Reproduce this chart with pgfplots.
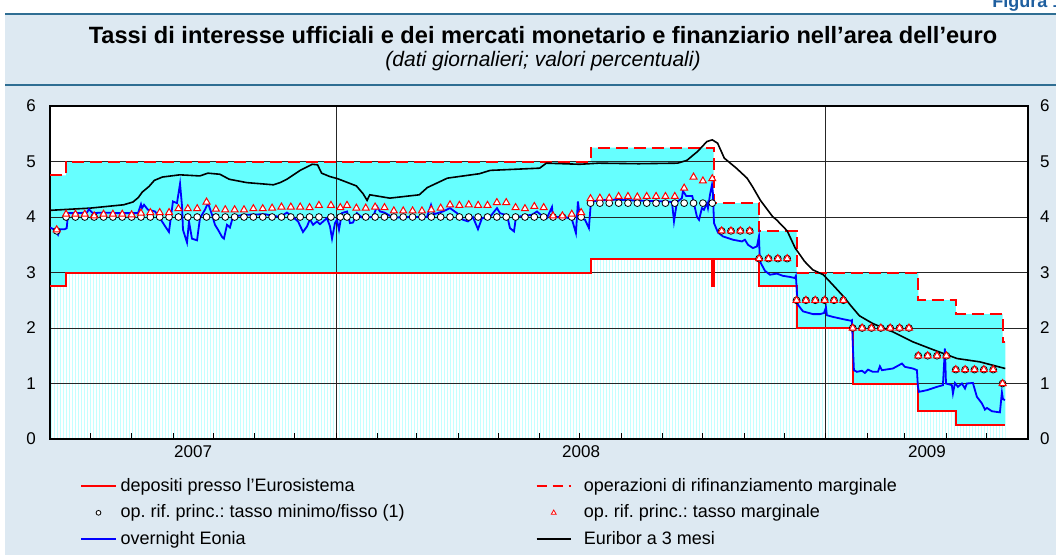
\documentclass[border=0pt]{standalone}
\usepackage{fontspec}
\setmainfont{Liberation Sans}
\usepackage{pgfplots}
\pgfplotsset{compat=1.18}
\usetikzlibrary{patterns.meta}
\definecolor{panel}{HTML}{DDE9F2}
\definecolor{headline}{HTML}{2F6E93}
\definecolor{cyanfill}{HTML}{66FFFF}
\definecolor{palecyan}{HTML}{C4FFFF}
\definecolor{figblue}{HTML}{1F5F9F}
\pgfplotsset{chartbox/.style={at={(25pt,-219.5pt)}, anchor=south west, scale only axis,
  width=489pt, height=166.5pt, xmin=0, xmax=731, ymin=0, ymax=6}}
\begin{document}
\frenchspacing
\begin{tikzpicture}
\begin{scope}[x=0.5pt,y=-0.5pt]
\fill[white] (50,106) rectangle (1028,439);
\fill[panel, even odd rule] (5,14) rectangle (1056,555) (50,106) rectangle (1028,439);
\draw[headline, line width=1.2pt] (5,14) -- (1056,14);
\draw[headline, line width=1pt] (5,85) -- (1056,85);
\node[anchor=base, font=\bfseries\fontsize{11.8}{13}\selectfont] at (543,44) {Tassi di interesse ufficiali e dei mercati monetario e finanziario nell’area dell’euro};
\node[anchor=base, font=\itshape\fontsize{10.5}{12}\selectfont] at (543,67) {(dati giornalieri; valori percentuali)};
\node[anchor=base west, font=\bfseries\fontsize{9}{11}\selectfont, text=figblue, inner sep=0pt] at (992,8) {Figura 1.};
\end{scope}
% ---- axis A: corridor fills only ----
\begin{axis}[chartbox, hide axis]
\addplot[const plot, fill=cyanfill, draw=none, forget plot] coordinates {
(0,4.75)(12,5.00)(404,5.25)(496,4.25)(530,3.75)(558,3.00)(649,2.50)(677,2.25)(712,1.75)(714,1.75)} \closedcycle;
\addplot[const plot, fill=white, draw=none, forget plot,
  postaction={pattern={Lines[angle=90,distance=1.5pt,line width=0.5pt]}, pattern color=palecyan}] coordinates {
(0,2.75)(12,3.00)(404,3.25)(495,2.75)(496,3.25)(530,2.75)(558,2.00)(600,1.00)(649,0.50)(677,0.25)(714,0.25)} \closedcycle;
\end{axis}
% ---- axis B: grid, lines, marks, legend ----
\begin{axis}[chartbox,
  axis line style={black, line width=0.6pt},
  /pgf/number format/assume math mode=true,
  xtick={214,580}, xticklabels={}, xmajorgrids,
  minor xtick={30,61,92,122,153,183,245,274,305,335,366,396,427,458,488,519,549,611,639,670,700},
  tick align=inside, xtick pos=left, ytick pos=left,
  major tick length=3pt, minor tick length=3pt,
  tick style={black, line width=0.5pt},
  extra x ticks={107,397,655.5}, extra x tick labels={2007,2008,2009},
  extra x tick style={grid=none, major tick length=0pt},
  ytick={0,1,2,3,4,5,6}, ymajorgrids,
  ytick style={draw=none},
  yticklabel style={xshift=-3.5pt},
  grid style={black!85, line width=0.5pt},
  tick label style={font=\fontsize{8.5}{10}\selectfont},
  legend columns=2,
  legend cell align=left,
  legend style={at={(0.0307,-0.105)}, anchor=north west, draw=none, fill=none,
    inner sep=0pt, font=\fontsize{9}{11}\selectfont, row sep=1.2pt,
    /tikz/every even column/.append style={column sep=63.5pt},
    /tikz/column 3/.append style={column sep=4pt}},
]
\addlegendimage{red, line width=1pt}
\addlegendentry{depositi presso l{\char"27}Eurosistema}
\addlegendimage{red, line width=1pt, dash pattern=on 5pt off 3pt}
\addlegendentry{operazioni di rifinanziamento marginale}
\addlegendimage{only marks, mark=*, mark size=1.2pt, mark options={fill=white, draw=black, line width=0.4pt}}
\addlegendentry{op. rif. princ.: tasso minimo/fisso (1)}
\addlegendimage{only marks, mark=triangle*, mark size=1.4pt, mark options={fill=white, draw=red, line width=0.4pt}}
\addlegendentry{op. rif. princ.: tasso marginale}
\addlegendimage{blue, line width=1pt}
\addlegendentry{overnight Eonia}
\addlegendimage{black, line width=1pt}
\addlegendentry{Euribor a 3 mesi}
% deposit facility
\addplot[red, line width=1pt, const plot, forget plot] coordinates {
(0,2.75)(12,3.00)(404,3.25)(495,2.75)(496,3.25)(530,2.75)(558,2.00)(600,1.00)(649,0.50)(677,0.25)(714,0.25)};
% marginal lending facility
\addplot[red, line width=1pt, const plot, dash pattern=on 6pt off 3pt, forget plot] coordinates {
(0,4.75)(12,5.00)(404,5.25)(496,4.25)(530,3.75)(558,3.00)(649,2.50)(677,2.25)(712,1.75)(714,1.75)};
% Euribor 3 months
\addplot[black, line width=0.8pt, forget plot] coordinates {
(0,4.12)(30,4.16)(55,4.22)(62,4.27)(66,4.35)(69,4.45)(74,4.55)(78,4.66)(84,4.72)(97,4.76)(112,4.74)(118,4.79)(127,4.77)(134,4.68)(147,4.62)(167,4.58)(172,4.62)(177,4.68)(187,4.84)(196,4.95)(200,4.94)(203,4.79)(209,4.73)(215,4.69)(229,4.56)(234,4.42)(237,4.30)(239,4.40)(254,4.34)(276,4.40)(282,4.53)(297,4.70)(321,4.78)(329,4.84)(366,4.88)(371,4.97)(396,4.95)(410,4.97)(440,4.96)(469,4.97)(476,5.02)(484,5.18)(491,5.36)(495,5.39)(499,5.33)(504,5.06)(513,4.88)(521,4.70)(525,4.55)(531,4.30)(540,4.01)(543,3.95)(551,3.75)(557,3.44)(564,3.20)(570,3.05)(578,2.96)(585,2.78)(593,2.57)(599,2.39)(605,2.22)(615,2.08)(630,1.93)(645,1.75)(660,1.61)(678,1.45)(695,1.39)(714,1.27)};
% Eonia
\addplot[blue, line width=0.9pt, forget plot] coordinates {
(0,3.81)(3.7,3.77)(6,3.68)(7.5,3.78)(11,3.78)(12.5,3.80)(13.5,4.07)(21,4.07)(27.7,4.08)(29,4.14)(32,4.07)(40,4.08)(50,4.07)(60,4.07)(65.8,4.07)(68,4.23)(68.8,4.16)(70.3,4.22)(73.2,4.13)(78.5,4.10)(83.7,3.92)(88.9,3.73)(91.9,4.28)(94.9,4.25)(97.2,4.60)(98.7,4.19)(99.4,3.77)(102.4,3.54)(103.9,3.92)(106.1,3.61)(109.9,3.58)(112.1,3.98)(115.8,4.13)(118.1,4.25)(121.1,4.04)(123.3,3.86)(125.6,3.77)(128.6,3.64)(130,3.61)(132.3,3.86)(134.5,3.81)(136.8,4.01)(145.7,4.04)(160.7,4.05)(171.9,4.00)(177.1,4.08)(181.6,4.00)(185.4,3.92)(189.1,3.73)(192.1,3.83)(194.3,3.96)(196.6,3.86)(199.6,3.92)(201.8,3.87)(207,3.98)(209.3,3.83)(210.8,3.61)(213,3.89)(214.5,3.95)(216,3.77)(218.2,4.07)(222,4.10)(224.2,3.89)(226.5,3.90)(229.4,4.07)(233.2,3.99)(241.4,4.00)(244.4,4.19)(246.6,4.10)(250,4.08)(256.4,3.99)(270,4.00)(281.8,4.00)(284.8,4.22)(287,4.05)(293.7,4.10)(299,4.16)(304.2,4.07)(308.7,3.95)(312.4,3.92)(316.1,4.00)(319.9,3.78)(322.9,3.98)(328.8,4.00)(334.1,4.16)(336.3,4.07)(340.1,4.04)(342.3,3.96)(343.8,3.80)(346.8,3.74)(348.3,4.00)(360.2,4.04)(364,4.10)(367.7,4.02)(371.4,3.98)(375.2,4.18)(375.9,4.00)(384.9,4.00)(390.1,3.96)(393.1,3.71)(394.6,4.28)(396.1,3.98)(399.9,3.95)(402.8,3.80)(404.3,4.27)(409.6,4.30)(422.3,4.31)(435,4.30)(459.6,4.28)(464.9,4.27)(466.4,3.92)(468.6,4.27)(472.3,4.34)(473.1,4.47)(475.5,4.38)(480,4.38)(480.7,4.31)(483.6,4.00)(485.1,3.95)(487.3,4.16)(488.8,4.13)(491,4.25)(491.8,4.16)(493.3,4.40)(494.8,4.58)(495.5,4.43)(496.3,3.89)(499.3,3.72)(503,3.65)(510.5,3.59)(517.2,3.56)(519.4,3.59)(521.7,3.50)(525.4,3.44)(528.4,3.47)(529.9,3.65)(530.6,3.20)(534.4,3.03)(538.1,2.96)(543.3,2.98)(547.8,2.94)(553.1,2.92)(556.8,2.90)(557.5,2.94)(558.3,2.63)(559,2.42)(562.8,2.30)(570.3,2.25)(575.5,2.25)(578.5,2.27)(580,2.37)(580.7,2.23)(585.2,2.20)(592.7,2.16)(598.7,2.13)(599.4,2.14)(600.1,1.66)(600.9,1.24)(603.1,1.21)(606.9,1.23)(609.1,1.19)(611.4,1.25)(615.1,1.21)(618.8,1.21)(620.3,1.31)(621.8,1.24)(630,1.27)(636.8,1.36)(639,1.30)(645,1.27)(648,1.24)(648.7,0.94)(649.5,0.85)(655.5,0.88)(663,0.94)(667.4,0.97)(668.9,1.63)(669.7,1.00)(674.1,0.97)(674.9,0.82)(676.4,1.01)(678.6,0.94)(681.6,1.00)(683.9,0.91)(685.3,1.00)(689.8,1.01)(692.8,0.76)(696.6,0.64)(698.8,0.53)(700.3,0.56)(704,0.50)(710,0.48)(711.5,0.84)(712.3,0.72)(713.7,0.70)};
% MRO minimum / fixed rate
\addplot[only marks, mark=*, mark size=1.7pt, mark options={fill=white, draw=black, line width=0.4pt}, forget plot] coordinates {
(5,3.75)(12,4)(19,4)(26,4)(33,4)(40,4)(47,4)(54,4)(61,4)(68,4)(75,4)(82,4)(89,4)(96,4)(103,4)(110,4)(117,4)(124,4)(131,4)(138,4)(145,4)(152,4)(159,4)(166,4)(173,4)(180,4)(187,4)(194,4)(201,4)(210,4)(217,4)(222,4)(229,4)(236,4)(243,4)(250,4)(257,4)(264,4)(271,4)(278,4)(285,4)(292,4)(299,4)(306,4)(313,4)(320,4)(327,4)(334,4)(341,4)(348,4)(355,4)(362,4)(369,4)(376,4)(383,4)(390,4)(397,4)
(404,4.25)(411,4.25)(418,4.25)(425,4.25)(432,4.25)(439,4.25)(446,4.25)(453,4.25)(460,4.25)(467,4.25)(474,4.25)(481,4.25)(488,4.25)(495,4.25)
(502,3.75)(509,3.75)(516,3.75)(523,3.75)(530,3.25)(537,3.25)(544,3.25)(551,3.25)
(558,2.5)(565,2.5)(572,2.5)(579,2.5)(586,2.5)(593,2.5)
(600,2)(607,2)(614,2)(621,2)(628,2)(635,2)(642,2)
(649,1.5)(656,1.5)(663,1.5)(670,1.5)(677,1.25)(684,1.25)(691,1.25)(698,1.25)(705,1.25)(712,1)};
% MRO marginal rate
\addplot[only marks, mark=triangle*, mark size=2pt, mark options={fill=white, draw=red, line width=0.5pt}, forget plot] coordinates {
(5,3.77)(12,4.05)(19,4.05)(26,4.05)(33,4.02)(40,4.05)(47,4.05)(54,4.05)(61,4.04)(68,4.07)(75,4.08)(82,4.08)(89,4.08)(96,4.15)(103,4.15)(110,4.15)(117,4.27)(124,4.14)(131,4.13)(138,4.13)(145,4.13)(152,4.15)(159,4.15)(166,4.16)(173,4.18)(180,4.18)(187,4.18)(194,4.17)(201,4.21)(210,4.21)(217,4.17)(222,4.21)(229,4.16)(236,4.16)(243,4.18)(250,4.17)(257,4.11)(264,4.11)(271,4.11)(278,4.11)(285,4.13)(292,4.16)(299,4.22)(306,4.21)(313,4.22)(320,4.21)(327,4.21)(334,4.26)(341,4.26)(348,4.17)(355,4.15)(362,4.19)(369,4.17)(376,4.02)(383,4.02)(390,4.05)(397,4.08)
(404,4.33)(411,4.34)(418,4.34)(425,4.37)(432,4.37)(439,4.36)(446,4.37)(453,4.37)(460,4.37)(467,4.37)(474,4.52)(481,4.72)(488,4.65)(495,4.69)
(502,3.75)(509,3.75)(516,3.75)(523,3.75)(530,3.25)(537,3.25)(544,3.25)(551,3.25)
(558,2.5)(565,2.5)(572,2.5)(579,2.5)(586,2.5)(593,2.5)
(600,2)(607,2)(614,2)(621,2)(628,2)(635,2)(642,2)
(649,1.5)(656,1.5)(663,1.5)(670,1.5)(677,1.25)(684,1.25)(691,1.25)(698,1.25)(705,1.25)(712,1)};
\end{axis}
% ---- axis C: right-hand labels ----
\begin{axis}[chartbox,
  hide x axis, axis y line*=right, axis line style={draw=none},
  /pgf/number format/assume math mode=true,
  ytick={0,1,2,3,4,5,6}, ytick style={draw=none},
  yticklabel style={xshift=2.5pt},
  tick label style={font=\fontsize{8.5}{10}\selectfont},
]
\addplot[draw=none, forget plot] coordinates {(0,0)(731,6)};
\end{axis}
\pgfresetboundingbox
\useasboundingbox (0,0) rectangle (528pt,-277.5pt);
\end{tikzpicture}
\end{document}
